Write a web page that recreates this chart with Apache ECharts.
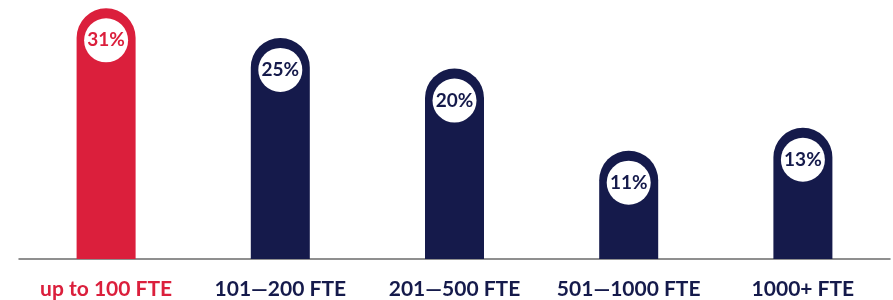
<!DOCTYPE html>
<html>
<head>
<meta charset="utf-8">
<script src="https://cdn.jsdelivr.net/npm/echarts@6/dist/echarts.min.js"></script>
<style>
  html, body { margin: 0; padding: 0; background: #fff; }
  #chart { width: 893px; height: 300px; }
</style>
</head>
<body>
<div id="chart"></div>
<script>
var categories = ['up to 100 FTE', '101\u2014200 FTE', '201\u2014500 FTE', '501\u20141000 FTE', '1000+ FTE'];
var shares = [31, 25, 20, 11, 13];
var highlightIndex = 0;

(function() {
  'use strict';

  var red = '#db1f3c';
  var navy = '#151a4b';
  var font = 'Lato, "Open Sans", sans-serif';

  function colorAt(i) {
    return i === highlightIndex ? red : navy;
  }

  var chart = echarts.init(document.getElementById('chart'));

  chart.setOption({
    animation: false,
    grid: { left: 19, right: 3, top: 4, bottom: 41, outerBoundsMode: 'none' },
    xAxis: {
      type: 'category',
      data: categories,
      axisTick: { show: false },
      axisLine: { lineStyle: { color: '#6b6b6b', width: 1.5 } },
      axisLabel: {
        interval: 0,
        hideOverlap: false,
        margin: 20,
        fontFamily: font,
        fontSize: 21,
        fontWeight: 'bold',
        color: function(value, index) { return colorAt(index); }
      }
    },
    yAxis: {
      type: 'log',
      logBase: 10,
      min: 5,
      max: 32,
      startValue: 5,
      show: false
    },
    series: [{
      type: 'bar',
      barWidth: 59,
      data: shares.map(function(v, i) {
        return {
          value: v,
          itemStyle: { color: colorAt(i), borderRadius: [30, 30, 0, 0] },
          label: { color: colorAt(i) }
        };
      }),
      label: {
        show: true,
        position: 'insideTop',
        distance: 10,
        formatter: '{c}%',
        fontFamily: font,
        fontSize: 19,
        fontWeight: 'bold',
        width: 44,
        height: 44,
        lineHeight: 44,
        align: 'center',
        backgroundColor: '#fff',
        borderRadius: 22
      }
    }]
  });
})();
</script>
</body>
</html>
